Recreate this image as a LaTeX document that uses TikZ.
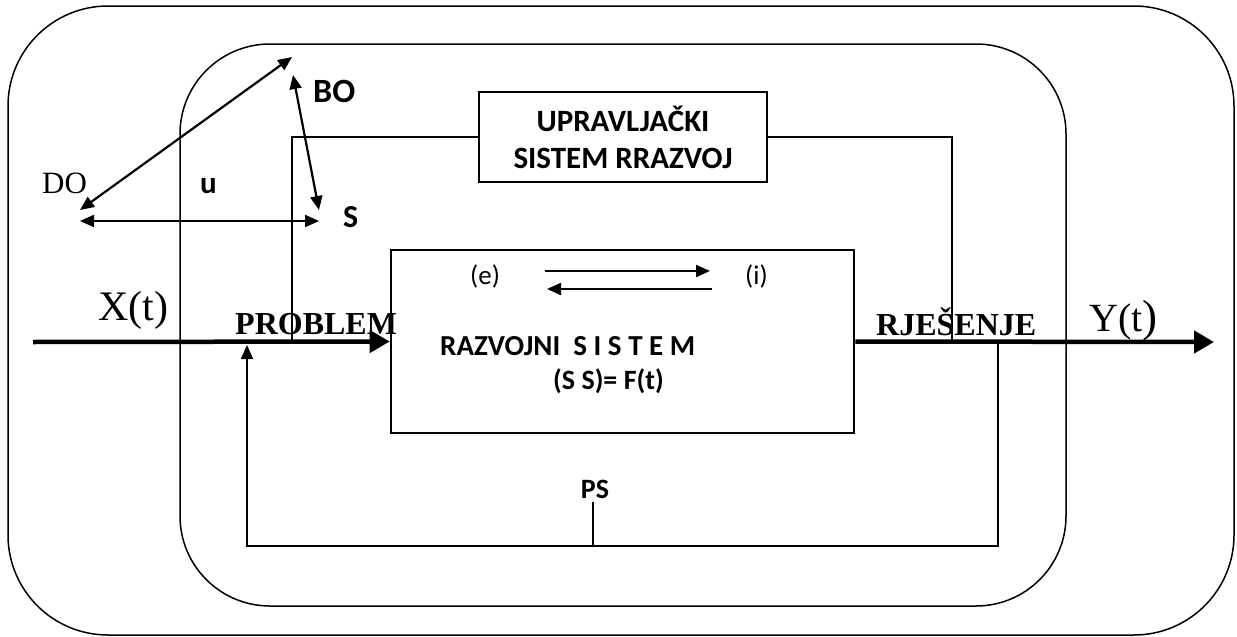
\documentclass[tikz,border=0pt]{standalone}
\usepackage{fontspec}
\setmainfont{Liberation Serif}
\setsansfont{Carlito}
\usetikzlibrary{positioning,arrows.meta,calc}

\tikzset{
  >={Triangle[length=14pt,width=12pt]},
  % --- frames and blocks
  rframe/.style = {draw=black, line width=1.5pt, rounded corners=#1},
  blk/.style    = {draw=black, line width=2.6pt, inner sep=0pt},
  % --- text
  lbl/.style    = {inner sep=0pt, anchor=base west,
                   font=\sffamily\bfseries\fontsize{28}{37}\selectfont},
  lblr/.style   = {lbl, font=\sffamily\fontsize{27}{32}\selectfont},
  rm/.style     = {inner sep=0pt, anchor=base west, font=\fontsize{31}{36}\selectfont},
  rmb/.style    = {rm, font=\bfseries\fontsize{32}{36}\selectfont},
  big/.style    = {rm, font=\fontsize{42}{46}\selectfont},
  % --- edges
  axis/.style   = {line width=4.5pt, -{Triangle[length=20pt,width=22pt]}},
  e/.style      = {line width=2.2pt},
  fb/.style     = {line width=1.6pt},
}

\begin{document}
\begin{tikzpicture}[x=1pt,y=-1pt]
  \useasboundingbox (0,0) rectangle (1237,637);
  % environment and system frames
  \draw[rframe=100pt] (8,6) rectangle (1234,635);
  \draw[rframe=90pt] (180,44) rectangle (1066,606);

  % blocks
  \node[blk, minimum width=288pt, minimum height=90pt, align=center,
        font=\sffamily\bfseries\fontsize{31}{37}\selectfont] (upr) at (623,137)
        {UPRAVLJAČKI\\SISTEM RRAZVOJ};
  \node[blk, minimum width=463pt, minimum height=183pt] (rs) at (622.5,341.5) {};

  % inside the development system
  \node[lblr] (e) at (470,284) {(e)};
  \node[lblr] (i) at (745,284) {(i)};
  \node[lbl, font=\sffamily\bfseries\fontsize{29}{37}\selectfont] (rsname) at (440,355)
        {RAZVOJNI\ \ S I S T E M};
  \node[lbl] (rsfun) at (553,389) {(S S)= F(t)};
  \coordinate (ea) at (545,271); \coordinate (ia) at (710,271);
  \coordinate (ib) at (712,289); \coordinate (eb) at (547,289);
  \draw[e,->] (ea) -- (ia);
  \draw[e,->] (ib) -- (eb);

  % input / output
  \node[big] (xt) at (98,320) {X(t)};
  \node[big, font=\fontsize{40}{46}\selectfont] (yt) at (1089,331) {Y(t\fontsize{45}{50}\selectfont)};
  \node[rmb] (prob) at (235,334) {PROBLEM};
  \node[rmb] (rjes) at (876,335) {RJEŠENJE};
  \coordinate (xin) at (33,342);
  \coordinate (yout) at (1214,342);
  \draw[axis] (xin) -- (rs.west);
  \draw[axis] (rs.east) -- (yout);

  % control loop
  \coordinate (pin) at (292,342);
  \coordinate (pout) at (952,342);
  \draw[fb] (upr.west) -| (pin);
  \draw[fb] (upr.east) -| (pout);

  % feedback
  \node[lbl, anchor=base] (ps) at (595,498) {PS};
  \coordinate (fbR) at (998,342);
  \coordinate (ps0) at (593,546);
  \coordinate (fbL) at (247,345);
  \draw[fb,->] (fbR) |- (ps0) -| (fbL);
  \draw[fb] (ps0) -- ([yshift=-4pt]ps.south -| ps0);

  % DO - BO - S triangle
  \node[rm] (do) at (42,193) {DO};
  \node[lbl, font=\sffamily\bfseries\fontsize{31}{36}\selectfont] (u) at (200,193) {u};
  \node[lbl, font=\sffamily\bfseries\fontsize{34}{36}\selectfont] (bo) at (313,102) {BO};
  \node[lbl, font=\sffamily\bfseries\fontsize{32}{36}\selectfont] (s) at (343,227) {S};
  \coordinate (tDO) at (80,210); \coordinate (tBO) at (292,57);
  \coordinate (uBO) at (293,75); \coordinate (tS) at (319,210);
  \coordinate (hDO) at (80,221); \coordinate (hS) at (319,221);
  \draw[e,<->] (tDO) -- (tBO);
  \draw[e,<->] (uBO) -- (tS);
  \draw[e,<->] (hDO) -- (hS);
\end{tikzpicture}
\end{document}
